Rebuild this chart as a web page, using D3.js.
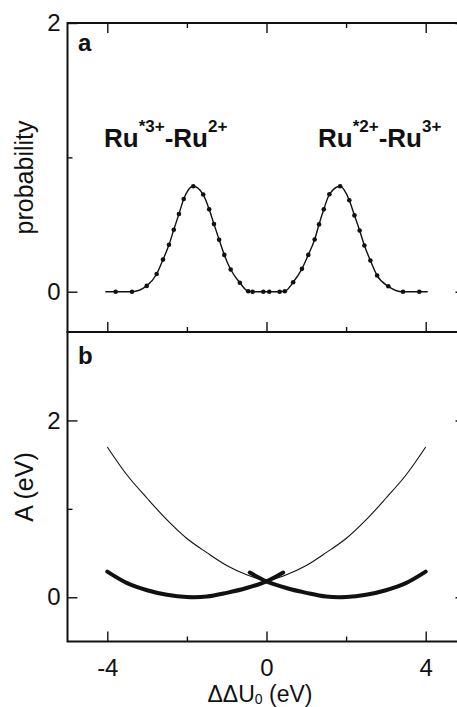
<!DOCTYPE html>
<html>
<head>
<meta charset="utf-8">
<script src="https://cdn.jsdelivr.net/npm/d3@7"></script>
<style>
  html, body { margin: 0; padding: 0; background: #fff; }
  svg { display: block; }
  text { font-family: "Liberation Sans", Arial, Helvetica, sans-serif; fill: #111; }
</style>
</head>
<body>
<svg id="chart" width="457" height="707"></svg>
<script>
// ---- panel a: probability distribution of the energy gap ----
const probX = [-3.79, -3.38, -3.01, -2.76, -2.60, -2.45, -2.33, -2.20, -2.08, -1.84,
               -1.59, -1.44, -1.32, -1.19, -1.06, -0.90, -0.67, -0.46, -0.35, -0.08,
                0.07,  0.33,  0.46,  0.67,  0.89,  1.05,  1.21,  1.32,  1.44,  1.58,
                1.85,  2.08,  2.21,  2.34,  2.46,  2.61,  2.78,  3.06,  3.43,  3.84];
const probY = [0.000, 0.000, 0.043, 0.132, 0.239, 0.349, 0.461, 0.578, 0.690, 0.785,
               0.723, 0.613, 0.503, 0.387, 0.274, 0.165, 0.067, 0.003, 0.000, 0.000,
               0.000, 0.000, 0.003, 0.070, 0.170, 0.274, 0.389, 0.501, 0.613, 0.725,
               0.785, 0.681, 0.568, 0.456, 0.344, 0.232, 0.120, 0.040, 0.000, 0.000];
// tails of the fitted curve beyond the outermost samples
const fitEndX = [-4.05, 4.05];
const fitEndY = [0, 0];

// ---- panel b: free energy curves A(ΔΔU0) ----
const thickLeftX  = [-4.0, -3.5, -3.0, -2.5, -2.0, -1.5, -1.0, -0.5, 0.0, 0.42];
const thickLeftY  = [0.29, 0.16, 0.08, 0.028, 0.003, 0.008, 0.05, 0.105, 0.18, 0.28];
const thickRightX = [-0.42, 0.0, 0.5, 1.0, 1.5, 2.0, 2.5, 3.0, 3.5, 4.0];
const thickRightY = [0.28, 0.18, 0.105, 0.05, 0.008, 0.003, 0.028, 0.08, 0.16, 0.29];
const thinLeftX   = [-4.0, -3.5, -3.0, -2.5, -2.0, -1.5, -1.0, -0.5, 0.0];
const thinLeftY   = [1.70, 1.38, 1.12, 0.875, 0.665, 0.505, 0.36, 0.255, 0.18];
const thinRightX  = [0.0, 0.5, 1.0, 1.5, 2.0, 2.5, 3.0, 3.5, 4.0];
const thinRightY  = [0.18, 0.255, 0.36, 0.505, 0.665, 0.875, 1.12, 1.38, 1.70];

// ---- ticks ----
const xMajor = [-4, 0, 4];
const xMinor = [-2, 2];
const yMajor = [0, 2];
const yMinor = [1];

const svg = d3.select("#chart");
svg.append("rect").attr("width", 457).attr("height", 707).attr("fill", "#fff");

const x = d3.scaleLinear().domain([-5, 5]).range([67.5, 465.5]);
const yA = d3.scaleLinear().domain([-0.3, 2]).range([332, 23]);
const yB = d3.scaleLinear().domain([-0.5, 3]).range([641.5, 332]);

const TICK_FONT = 24;

function styleAxis(g) {
  g.select(".domain").remove();
  g.selectAll(".tick line").attr("stroke", "#111").attr("stroke-width", 1.4);
  g.selectAll(".tick text")
    .attr("font-size", TICK_FONT)
    .attr("font-family", "Liberation Sans, Arial, sans-serif")
    .attr("fill", "#111");
}

function drawAxes(yScale, top, bottom, withXLabels, withTopTicks) {
  const noLabel = () => "";
  // bottom ticks (pointing up into the panel)
  svg.append("g").attr("transform", `translate(0,${bottom})`)
    .call(d3.axisBottom(x).tickValues(xMajor).tickSize(-10).tickPadding(17)
      .tickFormat(withXLabels ? (d => String(d)) : noLabel))
    .call(styleAxis);
  svg.append("g").attr("transform", `translate(0,${bottom})`)
    .call(d3.axisBottom(x).tickValues(xMinor).tickSize(-5).tickFormat(noLabel))
    .call(styleAxis);
  if (withTopTicks) {
    svg.append("g").attr("transform", `translate(0,${top})`)
      .call(d3.axisTop(x).tickValues(xMajor).tickSize(-10).tickFormat(noLabel))
      .call(styleAxis);
    svg.append("g").attr("transform", `translate(0,${top})`)
      .call(d3.axisTop(x).tickValues(xMinor).tickSize(-5).tickFormat(noLabel))
      .call(styleAxis);
  }
  // left ticks with labels
  svg.append("g").attr("transform", `translate(${x.range()[0]},0)`)
    .call(d3.axisLeft(yScale).tickValues(yMajor).tickSize(-10).tickPadding(7)
      .tickFormat(d => String(d)))
    .call(styleAxis);
  svg.append("g").attr("transform", `translate(${x.range()[0]},0)`)
    .call(d3.axisLeft(yScale).tickValues(yMinor).tickSize(-5).tickFormat(noLabel))
    .call(styleAxis);
  // right ticks
  svg.append("g").attr("transform", `translate(${x.range()[1]},0)`)
    .call(d3.axisRight(yScale).tickValues(yMajor).tickSize(-10).tickFormat(noLabel))
    .call(styleAxis);
  svg.append("g").attr("transform", `translate(${x.range()[1]},0)`)
    .call(d3.axisRight(yScale).tickValues(yMinor).tickSize(-5).tickFormat(noLabel))
    .call(styleAxis);
  // frame
  svg.append("rect")
    .attr("x", x.range()[0]).attr("y", top)
    .attr("width", x.range()[1] - x.range()[0]).attr("height", bottom - top)
    .attr("fill", "none").attr("stroke", "#111").attr("stroke-width", 2);
}

// ---------------- panel a ----------------
const probPts = probX.map((v, i) => [v, probY[i]]);
const fitPts = [[fitEndX[0], fitEndY[0]], ...probPts, [fitEndX[1], fitEndY[1]]];

svg.append("path")
  .datum(fitPts)
  .attr("fill", "none").attr("stroke", "#111").attr("stroke-width", 1.4)
  .attr("d", d3.line().x(d => x(d[0])).y(d => yA(d[1])).curve(d3.curveMonotoneX));

svg.append("g").selectAll("circle")
  .data(probPts).join("circle")
  .attr("cx", d => x(d[0])).attr("cy", d => yA(d[1]))
  .attr("r", 2.3).attr("fill", "#111");

drawAxes(yA, 23, 332, false, true);

// ---------------- panel b ----------------
const lineB = d3.line().x(d => x(d[0])).y(d => yB(d[1])).curve(d3.curveCatmullRom.alpha(0.5));
const zipPts = (xs, ys) => xs.map((v, i) => [v, ys[i]]);

[[thinLeftX, thinLeftY], [thinRightX, thinRightY]].forEach(([xs, ys]) => {
  svg.append("path").datum(zipPts(xs, ys))
    .attr("fill", "none").attr("stroke", "#111").attr("stroke-width", 1.1)
    .attr("d", lineB);
});
[[thickLeftX, thickLeftY], [thickRightX, thickRightY]].forEach(([xs, ys]) => {
  svg.append("path").datum(zipPts(xs, ys))
    .attr("fill", "none").attr("stroke", "#111").attr("stroke-width", 4)
    .attr("stroke-linecap", "round")
    .attr("d", lineB);
});

drawAxes(yB, 332, 641.5, true, false);

// ---------------- text ----------------
// panel letters
svg.append("text").attr("x", 78).attr("y", 51)
  .attr("font-size", 24).attr("font-weight", "bold").text("a");
svg.append("text").attr("x", 78).attr("y", 364)
  .attr("font-size", 24).attr("font-weight", "bold").text("b");

// state labels over the two peaks
function stateLabel(px, py, sup1, sup2) {
  const t = svg.append("text").attr("x", px).attr("y", py)
    .attr("font-size", 26).attr("font-weight", "bold");
  t.append("tspan").text("Ru");
  t.append("tspan").attr("dy", -15).attr("font-size", 17).text(sup1);
  t.append("tspan").attr("dy", 15).attr("font-size", 26).text("-Ru");
  t.append("tspan").attr("dy", -15).attr("font-size", 17).text(sup2);
}
stateLabel(104, 147, "*3+", "2+");
stateLabel(318, 147, "*2+", "3+");

// axis titles
svg.append("text")
  .attr("transform", `translate(33,177.5) rotate(-90)`)
  .attr("text-anchor", "middle").attr("font-size", 25).text("probability");
svg.append("text")
  .attr("transform", `translate(33,487) rotate(-90)`)
  .attr("text-anchor", "middle").attr("font-size", 25).text("A (eV)");

const xt = svg.append("text").attr("x", 260).attr("y", 702)
  .attr("text-anchor", "middle").attr("font-size", 23);
xt.append("tspan").text("ΔΔU");
xt.append("tspan").attr("dy", 2).attr("font-size", 14).text("0");
xt.append("tspan").attr("dy", -2).text(" (eV)");
</script>
</body>
</html>
